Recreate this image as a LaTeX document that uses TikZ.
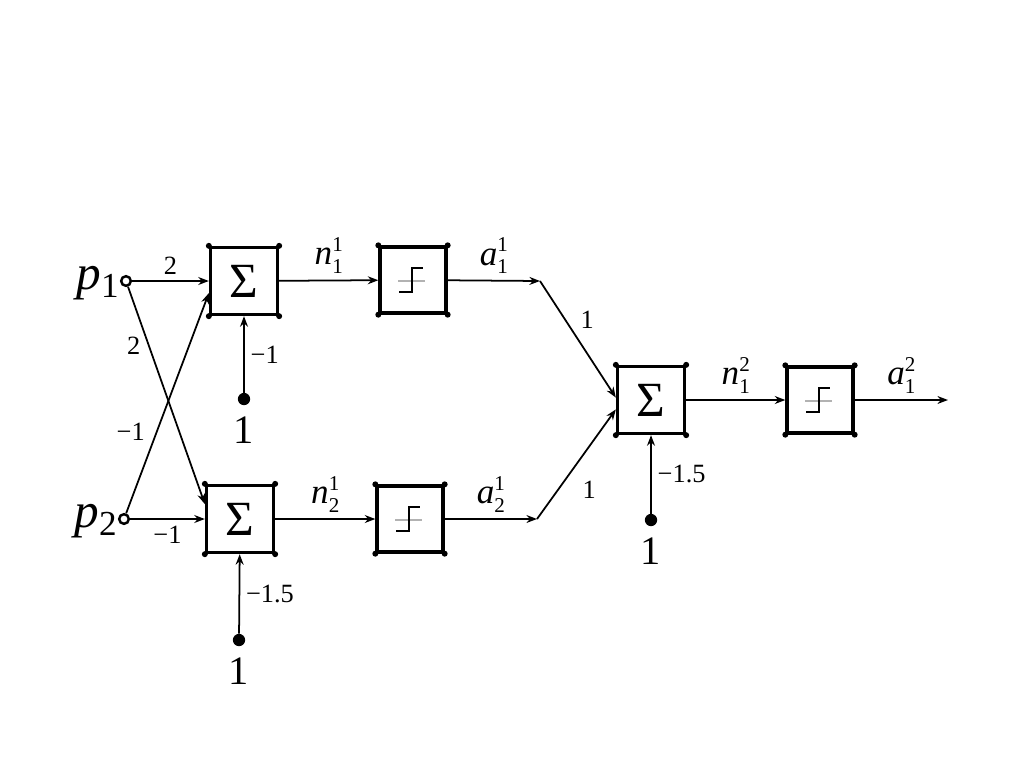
\documentclass[tikz,border=0pt]{standalone}
\usepackage[no-math]{fontspec}
\setmainfont{Liberation Serif}
\usetikzlibrary{positioning,arrows.meta}
\newcommand{\sig}[3]{\textit{#1}\makebox[0pt][l]{\raisebox{-5pt}{\fontsize{12}{12}\selectfont #2}}\raisebox{7.5pt}{\fontsize{12}{12}\selectfont #3}}
\newcommand{\inp}[1]{\textit{p}\raisebox{-5pt}{\fontsize{20}{20}\selectfont #1}}
\begin{document}
\begin{tikzpicture}[x=0.02cm, y=-0.02cm,
    sumbox/.style={draw, line width=1.9pt, minimum size=1.34cm, inner sep=0pt, font=\fontsize{28}{28}\selectfont},
    stepbox/.style={draw, line width=1.9pt, minimum size=1.32cm, inner sep=0pt},
    inport/.style={circle, draw, line width=1.4pt, fill=white, minimum size=5.5pt, inner sep=0pt},
    biasdot/.style={circle, fill, minimum size=7pt, inner sep=0pt},
    wire/.style={-{Stealth[length=6pt, width=4.5pt]}, line width=1pt},
    wlbl/.style={font=\fontsize{15}{15}\selectfont},
    slbl/.style={font=\fontsize{20}{20}\selectfont},
    onelbl/.style={font=\fontsize{23}{23}\selectfont, inner sep=0pt},
    plbl/.style={font=\fontsize{28}{28}\selectfont, inner sep=0pt}]
    \useasboundingbox (0,0) rectangle (1024,768);
    \node[inport] (p1) at (126,281) {};
    \node[inport] (p2) at (124,519) {};
    \node[plbl, anchor=base east] (p1txt) at (119,289) {\inp{1}};
    \node[plbl, anchor=base east] (p2txt) at (117,527) {\inp{2}};
    \node[sumbox] (sumA) at (244,281) {Σ};
    \node[sumbox] (sumB) at (240,519) {Σ};
    \node[sumbox] (sumC) at (651,400) {Σ};
    \node[stepbox] (stepA) at (413,280) {};
    \node[stepbox] (stepB) at (410,519) {};
    \node[stepbox] (stepC) at (820,400) {};
    \foreach \b in {sumA,sumB,sumC,stepA,stepB,stepC}
        \foreach \c in {north west,north east,south west,south east}
            \fill (\b.\c) circle (3);
    \foreach \s in {stepA,stepB,stepC} {
        \begin{scope}[shift={(\s.center)}]
            \draw[gray!60, line width=0.8pt] (-15,1) -- (12,1);
            \draw[line width=1.1pt] (-14,12) -- (-1,12) -- (-1,-12) -- (10,-12);
        \end{scope}
    }
    \node[biasdot] (bA) at (244,399) {};
    \node[biasdot] (bB) at (239,640) {};
    \node[biasdot] (bC) at (651,520) {};
    \node[onelbl, below=6pt of bA] (oneA) {1};
    \node[onelbl, below=6pt of bB] (oneB) {1};
    \node[onelbl, below=6pt of bC] (oneC) {1};
    \coordinate (kA) at (540,281);
    \coordinate (kB) at (537,519);
    \coordinate (out) at (948,400);
    \draw[wire] (p1) -- node[above, wlbl] {2} (sumA);
    \draw[wire] (p2) -- node[below, wlbl] {−1} (sumB);
    \draw[wire] (p1) -- node[pos=0.27, left=1pt, wlbl] {2} (sumB.157);
    \draw[wire] (p2) -- node[pos=0.37, left=3pt, wlbl] {−1} (sumA.199);
    \draw[wire] (bA) -- node[right, wlbl] {−1} (sumA);
    \draw[wire] (bB) -- node[right, wlbl] {−1.5} (sumB);
    \draw[wire] (bC) -- node[right, wlbl] {−1.5} (sumC);
    \draw[wire] (sumA) -- node[above, slbl] {\sig{n}{1}{1}} (stepA);
    \draw[wire] (sumB) -- node[above, slbl] {\sig{n}{2}{1}} (stepB);
    \draw[wire] (stepA) -- node[above, slbl] {\sig{a}{1}{1}} (kA);
    \draw[wire] (stepB) -- node[above, slbl] {\sig{a}{2}{1}} (kB);
    \draw[wire] (kA) -- node[pos=0.33, right=5pt, wlbl] {1} (sumC.176);
    \draw[wire] (kB) -- node[pos=0.27, right=10pt, wlbl] {1} (sumC.195);
    \draw[wire] (sumC) -- node[above, slbl] {\sig{n}{1}{2}} (stepC);
    \draw[wire] (stepC) -- node[above, slbl] {\sig{a}{1}{2}} (out);
\end{tikzpicture}
\end{document}
